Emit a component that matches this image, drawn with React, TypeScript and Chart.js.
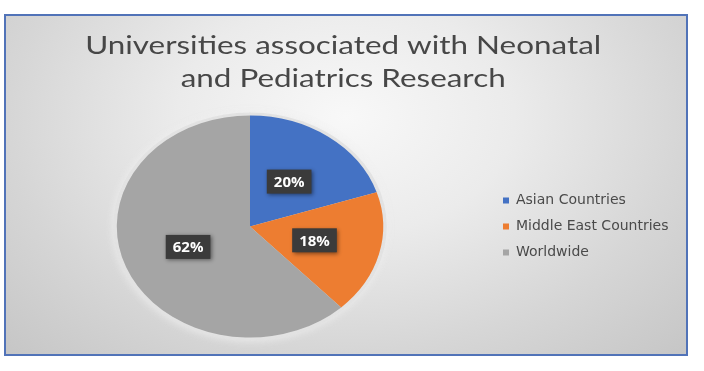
import React, { useEffect, useRef } from "react";
import { Chart, registerables } from "chart.js";

Chart.register(...registerables);

const titleLines = ["Universities associated with Neonatal", "and Pediatrics Research"];
const categories = ["Asian Countries", "Middle East Countries", "Worldwide"];
const shares = [20, 18, 62];
const sliceColors = ["#4472C4", "#ED7D31", "#A5A5A5"];

const CANVAS_W = 680;
const CANVAS_H = 338;
const SX = 1.2; // horizontal stretch of the pie (reference pie is elliptical)
const TITLE_FONT = { family: "Lato, sans-serif", size: 25, weight: "normal" as const, lineHeight: 1.33 };
const TITLE_TARGET_W = 516;
const LEGEND_FONT = { family: "'DejaVu Sans', sans-serif", size: 14 };
const LEGEND_PAD = 12;
const LEGEND_BOX = 6;

const stretchTitlePlugin = {
  id: "stretchTitle",
  afterInit(chart: any) {
    const tb = chart.titleBlock;
    if (!tb) return;
    const orig = tb.draw.bind(tb);
    tb.draw = (...args: any[]) => {
      const ctx = chart.ctx;
      ctx.save();
      ctx.font = `${TITLE_FONT.size}px ${TITLE_FONT.family}`;
      const w = ctx.measureText(titleLines[0]).width;
      const k = w > 0 ? TITLE_TARGET_W / w : 1;
      const cx = chart.width / 2;
      ctx.translate(cx, 0);
      ctx.scale(k, 1);
      ctx.translate(-cx, 0);
      orig(...args);
      ctx.restore();
    };
  },
};

const ellipsePlugin = {
  id: "ellipsePie",
  beforeDatasetsDraw(chart: any) {
    const meta = chart.getDatasetMeta(0);
    const arc = meta.data[0];
    const ctx = chart.ctx;
    ctx.save();
    if (!arc) return;
    const { x, y, outerRadius } = arc.getProps(["x", "y", "outerRadius"], true);
    ctx.translate(x, y);
    ctx.scale(SX, 1);
    ctx.translate(-x, -y);
    ctx.save();
    ctx.beginPath();
    ctx.arc(x, y, outerRadius + 3, 0, Math.PI * 2);
    ctx.fillStyle = "rgba(226,226,226,0.95)";
    ctx.shadowColor = "rgba(238,238,238,1)";
    ctx.shadowBlur = 10;
    ctx.fill();
    ctx.restore();
  },
  afterDatasetsDraw(chart: any) {
    const ctx = chart.ctx;
    ctx.restore();
    const meta = chart.getDatasetMeta(0);
    if (!meta.data.length) return;
    const cx = meta.data[0].x;
    const values = chart.data.datasets[0].data as number[];
    ctx.save();
    ctx.font = "bold 15px 'Open Sans', sans-serif";
    ctx.textAlign = "center";
    ctx.textBaseline = "middle";
    meta.data.forEach((el: any, i: number) => {
      const p = el.tooltipPosition(true);
      const x = cx + (p.x - cx) * SX;
      const y = p.y;
      const text = `${values[i]}%`;
      const w = ctx.measureText(text).width + 14;
      const h = 24;
      ctx.save();
      ctx.shadowColor = "rgba(0,0,0,0.45)";
      ctx.shadowBlur = 4;
      ctx.shadowOffsetX = 1.5;
      ctx.shadowOffsetY = 1.5;
      ctx.fillStyle = "#3b3b3b";
      ctx.fillRect(x - w / 2, y - h / 2, w, h);
      ctx.restore();
      ctx.fillStyle = "#ffffff";
      ctx.fillText(text, x, y + 1);
    });
    ctx.restore();
  },
};

export default function App() {
  const canvasRef = useRef<HTMLCanvasElement | null>(null);

  useEffect(() => {
    const canvas = canvasRef.current;
    if (!canvas) return;
    const mctx = document.createElement("canvas").getContext("2d")!;
    mctx.font = `${LEGEND_FONT.size}px ${LEGEND_FONT.family}`;
    const maxText = Math.max(...categories.map((c) => mctx.measureText(c).width));
    const legendWidth = LEGEND_PAD + LEGEND_BOX + LEGEND_FONT.size / 2 + maxText + 10;
    const legendLeft = 497 - LEGEND_PAD;
    const padRight = Math.max(0, CANVAS_W - legendLeft - legendWidth);
    const padLeft = legendLeft - 2 * 244;

    const chart = new Chart(canvas, {
      type: "pie",
      data: {
        labels: categories,
        datasets: [
          {
            data: shares,
            backgroundColor: sliceColors,
            borderWidth: 0,
            hoverOffset: 0,
          },
        ],
      },
      options: {
        responsive: false,
        animation: false,
        radius: 111,
        layout: { padding: { left: Math.abs(padLeft), right: padRight, top: 0, bottom: 0 } },
        plugins: {
          title: {
            display: true,
            text: titleLines,
            color: "#474747",
            font: TITLE_FONT,
            padding: { top: 13, bottom: 3.5 },
          },
          legend: {
            display: true,
            position: "right",
            align: "center",
            fullSize: false,
            labels: {
              boxWidth: LEGEND_BOX,
              boxHeight: LEGEND_BOX,
              padding: LEGEND_PAD,
              color: "#4a4a4a",
              font: LEGEND_FONT,
            },
          },
          tooltip: { enabled: false },
        },
      } as any,
      plugins: [stretchTitlePlugin, ellipsePlugin],
    });
    return () => chart.destroy();
  }, []);

  return (
    <div style={{ position: "absolute", left: 0, top: 0, width: 704, height: 371, background: "#ffffff" }}>
      <div
        style={{
          position: "absolute",
          left: 4,
          top: 14,
          width: CANVAS_W,
          height: CANVAS_H,
          border: "2px solid #5173b8",
          background:
            "radial-gradient(ellipse at 50% 30%, #f8f8f8 0%, #ebebeb 35%, #d6d6d6 70%, #c6c6c6 100%)",
        }}
      >
        <canvas
          ref={canvasRef}
          width={CANVAS_W}
          height={CANVAS_H}
          style={{ display: "block", width: CANVAS_W, height: CANVAS_H }}
        />
      </div>
    </div>
  );
}
